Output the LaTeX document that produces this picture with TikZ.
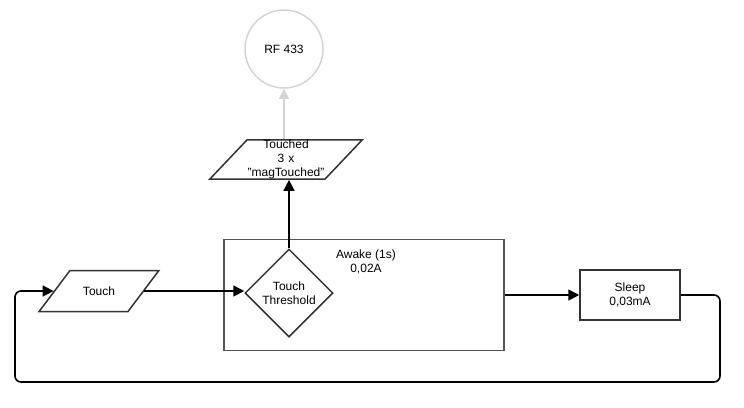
\documentclass[tikz,border=0pt]{standalone}
\usepackage{fontspec}
\setmainfont{Liberation Sans}
\usepackage{xcolor}
\usepackage{tikz}
\usetikzlibrary{
    arrows.meta,
    shapes.geometric
}

\definecolor{edgegray}{HTML}{333333}
\definecolor{groupgray}{HTML}{555555}
\definecolor{radiogray}{HTML}{D4D4D4}

\begin{document}
\begin{tikzpicture}[
    x=1pt, y=-1pt,
    font=\fontsize{12}{14}\selectfont,
    io/.style={
        draw=edgegray,
        line width=1.5pt,
        trapezium,
        inner sep=0pt,
        align=center
    },
    decision/.style={
        draw=edgegray,
        line width=1.5pt,
        diamond,
        aspect=1,
        inner sep=0pt,
        minimum width=88pt,
        minimum height=88pt,
        align=center
    },
    state/.style={
        draw=edgegray,
        line width=1.5pt,
        align=center,
        minimum width=100pt,
        minimum height=50pt
    },
    group/.style={
        draw=groupgray,
        line width=1.5pt,
        minimum width=280pt,
        minimum height=111pt
    },
    radio/.style={
        draw=radiogray,
        line width=1.5pt,
        circle,
        minimum size=78pt,
        inner sep=0pt
    },
    arrow/.style={-{Triangle[length=11pt,width=11pt]},line width=1.6pt},
    grayarrow/.style={-{Triangle[length=10pt,width=10pt]},line width=1.6pt,draw=radiogray}
]

\useasboundingbox (0,0) rectangle (744,407);

\node[radio] (rf) at (284,49) {RF 433};

\node[io, trapezium left angle=46.5, trapezium right angle=133.5,
      text width=78pt] (touched) at (286,159.5)
{Touched\\3 x\\"magTouched"};

\node[group] (awake) at (364,295) {};
\node[align=center] (awakelbl) at (366,262) {Awake (1s)\\0,02A};

\node[decision] (thresh) at (289,293) {Touch\\Threshold};

\node[io, trapezium left angle=53, trapezium right angle=127,
      text width=58pt, text height=24.5pt, text depth=16.5pt] (touch) at (99,291)
{Touch};

\node[state] (sleep) at (630,295) {Sleep\\0,03mA};

\coordinate (loopr) at (720,382);
\coordinate (loopl) at (15,382);

\draw[arrow] (touch.east) -- (touch.east -| thresh.west);
\draw[arrow] (thresh.north) -- (thresh.north |- touched.south);
\draw[grayarrow] (touched.north -| rf.south) -- (rf.south);
\draw[arrow] (awake.east) -- (sleep.west);

\draw[arrow, rounded corners=6pt] (sleep.east) -| (loopr) -- (loopl) |- (touch.west);

\end{tikzpicture}
\end{document}
